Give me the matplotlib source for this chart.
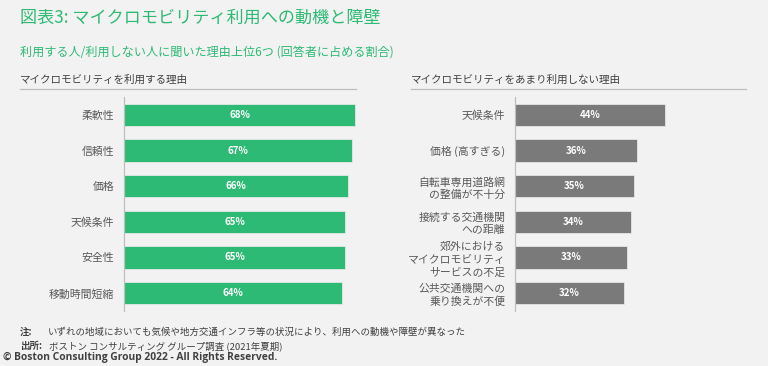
import matplotlib.pyplot as plt

plt.rcParams['font.family'] = ['Noto Sans CJK JP', 'DejaVu Sans']

# 利用する理由 / 利用しない理由
use_labels = ["柔軟性", "信頼性", "価格", "天候条件", "安全性", "移動時間短縮"]
use_values = [68, 67, 66, 65, 65, 64]

nouse_labels = ["天候条件", "価格 (高すぎる)", "自転車専用道路網\nの整備が不十分",
                "接続する交通機関\nへの距離", "郊外における\nマイクロモビリティ\nサービスの不足",
                "公共交通機関への\n乗り換えが不便"]
nouse_values = [44, 36, 35, 34, 33, 32]

bg = "#f2f2f2"
green = "#2dba74"
gray = "#7a7a7a"
txt = "#595959"

W, H = 768, 366
fig = plt.figure(figsize=(W / 100, H / 100), dpi=100, facecolor=bg)


def fx(px):
    return px / W


def fy(py):
    return 1 - py / H


fig.text(fx(20), fy(18), "図表3: マイクロモビリティ利用への動機と障壁", fontsize=12.3,
         color=green, va="center", ha="left")
fig.text(fx(20), fy(52), "利用する人/利用しない人に聞いた理由上位6つ (回答者に占める割合)",
         fontsize=8.7, color=green, va="center", ha="left")

fig.text(fx(20), fy(80), "マイクロモビリティを利用する理由", fontsize=7.6, color="#404040",
         va="center", ha="left")
fig.text(fx(411), fy(80), "マイクロモビリティをあまり利用しない理由", fontsize=7.6,
         color="#404040", va="center", ha="left")
fig.add_artist(plt.Line2D([fx(20), fx(356)], [fy(89), fy(89)], color="#bfbfbf", lw=0.9))
fig.add_artist(plt.Line2D([fx(411), fx(746)], [fy(89), fy(89)], color="#bfbfbf", lw=0.9))


def panel(x0, labels, values, color):
    scale = 3.4  # px per %
    ax = fig.add_axes([fx(x0), fy(311), 80 * scale / W, 214 / H])
    ax.set_facecolor("none")
    y = list(range(len(labels)))
    ax.barh(y, values, height=0.62, color=color, edgecolor="#e6e6e6", linewidth=0.6)
    for yi, v in zip(y, values):
        ax.text(v / 2, yi, f"{v}%", color="white", ha="center", va="center",
                fontsize=7, fontweight="bold")
    ax.set_yticks(y)
    ax.set_yticklabels(labels, fontsize=7.8, color=txt, linespacing=1.3)
    ax.set_ylim(len(labels) - 0.5, -0.5)
    ax.set_xlim(0, 80)
    ax.set_xticks([])
    ax.tick_params(axis="y", length=0, pad=7)
    for s in ["top", "right", "bottom"]:
        ax.spines[s].set_visible(False)
    ax.spines["left"].set_color("#bfbfbf")
    ax.spines["left"].set_linewidth(0.9)
    for t in ax.get_yticklabels():
        t.set_multialignment("right")
    return ax


panel(124, use_labels, use_values, green)
panel(515, nouse_labels, nouse_values, gray)

fig.text(fx(20), fy(332), "注:", fontsize=6.8, fontweight="bold", color="#404040", va="center")
fig.text(fx(48), fy(332), "いずれの地域においても気候や地方交通インフラ等の状況により、利用への動機や障壁が異なった",
         fontsize=6.8, color="#404040", va="center")
fig.text(fx(20), fy(346), "出所:", fontsize=6.8, fontweight="bold", color="#404040", va="center")
fig.text(fx(49), fy(346), "ボストン コンサルティング グループ調査 (2021年夏期)",
         fontsize=6.8, color="#404040", va="center")
fig.text(fx(3), fy(357), "© Boston Consulting Group 2022 - All Rights Reserved.",
         fontsize=7.4, fontweight="bold", color="#404040", va="center", family="Open Sans")

fig.savefig("out.png", dpi=100, facecolor=bg)
